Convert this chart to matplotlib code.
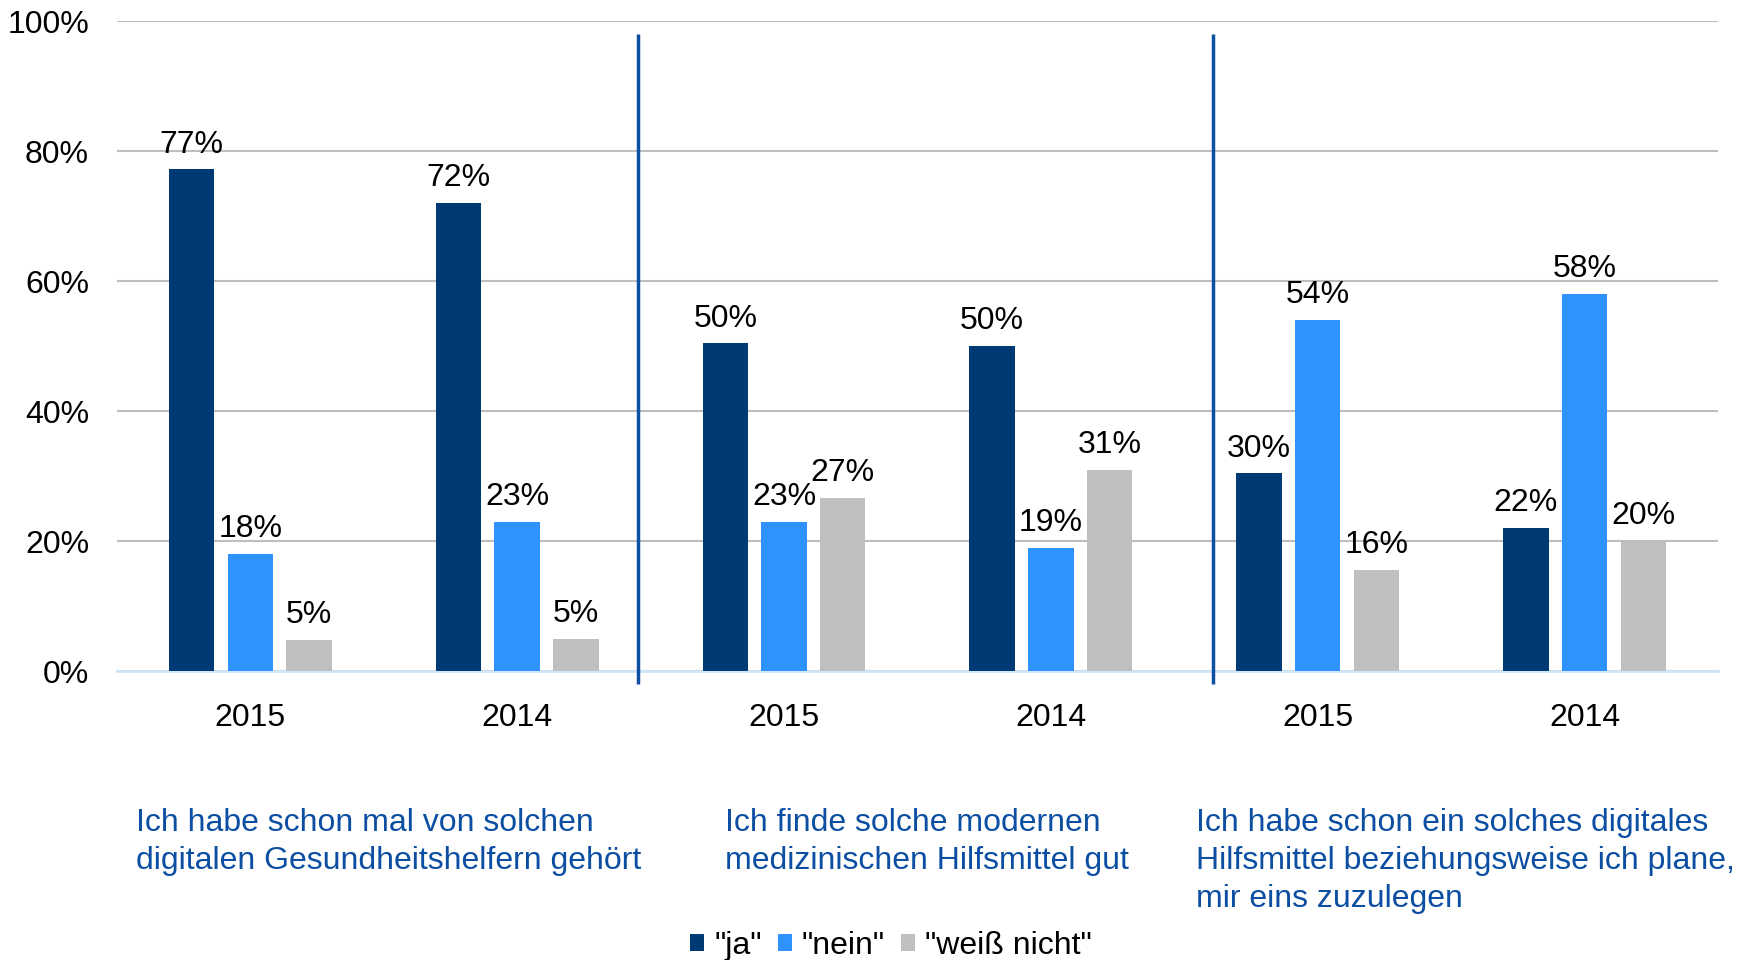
import numpy as np
import matplotlib
matplotlib.use('Agg')
import matplotlib.pyplot as plt

# Chart data.
years = ['2015', '2014', '2015', '2014', '2015', '2014']
series = ['"ja"', '"nein"', '"weiß nicht"']
ja = [77.2, 72.0, 50.4, 50.0, 30.4, 22.0]
nein = [18.0, 23.0, 23.0, 19.0, 54.0, 58.0]
weiss_nicht = [4.8, 5.0, 26.6, 31.0, 15.6, 20.0]
statements = ['Ich habe schon mal von solchen\ndigitalen Gesundheitshelfern gehört',
              'Ich finde solche modernen\nmedizinischen Hilfsmittel gut',
              'Ich habe schon ein solches digitales\nHilfsmittel beziehungsweise ich plane,\nmir eins zuzulegen']
yticks = [0, 20, 40, 60, 80, 100]

# Style settings.
colors = ['#003A75', '#2E93FF', '#BFBFBF']
textBlue = '#0B4EA2'
fontSize = 23
barWidth = 0.17
barStep = 0.22

plt.rcParams['font.family'] = ['Liberation Sans', 'DejaVu Sans']

fig = plt.figure(figsize=(17.43, 9.60), dpi=100, facecolor='white')
ax = fig.add_axes([0.067, 0.301, 0.9187, 0.677])

x = np.arange(len(years))
for i, values in enumerate([ja, nein, weiss_nicht]):
  pos = x + (i - 1) * barStep
  bars = ax.bar(pos, values, barWidth, color=colors[i], label=series[i],
      zorder=3)
  for b, v in zip(bars, values):
    ax.annotate('%d%%' % round(v), (b.get_x() + b.get_width() / 2, v),
        xytext=(0, 7), textcoords='offset points', ha='center', va='bottom',
        fontsize=fontSize, color='black', zorder=4)

ax.set_xlim(-0.5, len(years) - 0.5)
ax.set_ylim(0, 100)
ax.set_yticks(yticks)
ax.set_yticklabels(['%d%%' % t for t in yticks])
ax.set_xticks(x)
ax.set_xticklabels(years)
ax.tick_params(axis='both', length=0, labelsize=fontSize)
ax.tick_params(axis='y', pad=20)
ax.tick_params(axis='x', pad=23)
ax.yaxis.grid(True, color='#BEBEBE', linewidth=1.5, zorder=0)
for s in ['top', 'right', 'left']:
  ax.spines[s].set_visible(False)
ax.spines['bottom'].set_color('#CFE5F8')
ax.spines['bottom'].set_linewidth(2)
ax.spines['bottom'].set_zorder(2)

# Vertical separators between the statement groups.
ax.vlines([1.453, 3.608], -2, 98, color='#0D4FA0', linewidth=2.5,
    clip_on=False, zorder=5)

# Statement texts under the groups.
for xs, txt in zip([0.078, 0.416, 0.686], statements):
  fig.text(xs, 0.158, txt, ha='left', va='top', color=textBlue,
      fontsize=fontSize, linespacing=1.34)

lgd = fig.legend(loc='center', bbox_to_anchor=(0.511, 0.015), ncol=3,
    frameon=False, fontsize=fontSize, handlelength=0.45, handleheight=0.45,
    handletextpad=0.3, columnspacing=0.5, borderaxespad=0)

fig.savefig('out.png', dpi=100, facecolor='white')
